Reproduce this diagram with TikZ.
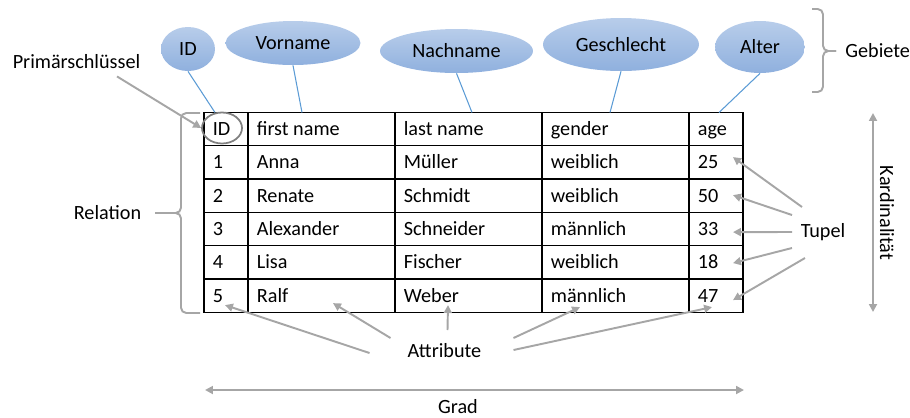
\documentclass[tikz,border=0pt]{standalone}
\usepackage{fontspec}
\setmainfont{Carlito}
\usetikzlibrary{shapes.geometric, arrows.meta, calc}

\definecolor{hellgrau}{RGB}{166,166,166}
\definecolor{dunkelgrau}{RGB}{128,128,128}
\definecolor{linienblau}{RGB}{91,155,213}
\definecolor{blauoben}{RGB}{184,205,234}
\definecolor{blauunten}{RGB}{143,176,222}

\begin{document}
\begin{tikzpicture}[
    x=0.02cm, y=-0.02cm,
    every node/.style={font=\fontsize{11.5}{13}\selectfont},
    gebiet/.style={ellipse, top color=blauoben, bottom color=blauunten, draw=none, inner sep=0pt, minimum height=0.88cm},
    zelle/.style={anchor=west, inner sep=0pt, text height=7.3pt, text depth=0pt},
    beschriftung/.style={inner sep=0pt},
    pfeil/.style={-{Triangle[length=4.5pt,width=4.5pt]}, hellgrau, line width=1.1pt},
    doppelpfeil/.style={{Triangle[length=4.5pt,width=4.5pt]}-{Triangle[length=4.5pt,width=4.5pt]}, hellgrau, line width=1.1pt},
    klammer/.style={hellgrau, line width=1.1pt, rounded corners=3pt},
    verbindung/.style={linienblau, line width=0.6pt},
    gitter/.style={line width=0.7pt}
  ]
  \useasboundingbox (0,0) rectangle (910,417);

  % Tabelle
  \draw[gitter] (204,112.5) rectangle (743,312.3);
  \foreach \y in {145.8,179.1,212.4,245.7,279.0}
    \draw[gitter] (204,\y) -- (743,\y);
  \foreach \x in {248,395,542,689}
    \draw[gitter] (\x,112.5) -- (\x,312.3);

  % Zellen
  \foreach \r/\a/\b/\c/\d/\e in {0/ID/first name/last name/gender/age,
      1/1/Anna/Müller/weiblich/25, 2/2/Renate/Schmidt/weiblich/50,
      3/3/Alexander/Schneider/männlich/33, 4/4/Lisa/Fischer/weiblich/18,
      5/5/Ralf/Weber/männlich/47} {
    \pgfmathsetmacro{\ym}{129.2+33.3*\r}
    \node[zelle] (id-\r) at (212.5,\ym) {\a};
    \node[zelle] (fn-\r) at (256.5,\ym) {\b};
    \node[zelle] (ln-\r) at (403.5,\ym) {\c};
    \node[zelle] (gd-\r) at (550.5,\ym) {\d};
    \node[zelle] (ag-\r) at (697.5,\ym) {\e};
  }

  % Gebiete (Ellipsen)
  \node[gebiet, minimum width=1.08cm] (e-id) at (188,49) {ID};
  \node[gebiet, minimum width=2.7cm] (e-vor) at (293,43) {Vorname};
  \node[gebiet, minimum width=3.06cm] (e-nach) at (456.5,51) {Nachname};
  \node[gebiet, minimum width=3.12cm, minimum height=1.06cm] (e-geschl) at (621,44.5) {Geschlecht};
  \node[gebiet, minimum width=1.8cm, minimum height=1.04cm] (e-alter) at (760,47) {Alter};

  \coordinate (k-id) at (215,112.5);
  \coordinate (k-vor) at (302,112.5);
  \coordinate (k-nach) at (472,112.5);
  \coordinate (k-geschl) at (610,112.5);
  \coordinate (k-alter) at (719,112.5);
  \foreach \n in {id,vor,nach,geschl,alter}
    \draw[verbindung] (e-\n.south) -- (k-\n);

  % Klammer Gebiete
  \draw[klammer] (812,9) -| (823,51) -- (836,51);
  \draw[klammer] (812,92) -| (823,51) -- (836,51);
  \node[beschriftung, anchor=west] (gebiete) at (845,51) {Gebiete};

  % Primaerschluessel
  \node[draw=dunkelgrau, ellipse, line width=1pt, minimum width=0.8cm, minimum height=0.62cm, inner sep=0pt] (pk) at (222,128) {};
  \node[beschriftung] (prim) at (76.5,62) {Primärschlüssel};
  \draw[pfeil] ($(prim.south)+(40.5,7)$) -- (pk.west);

  % Relation
  \draw[klammer] (200,113) -| (181,213) -- (155,213);
  \draw[klammer] (200,313) -| (181,213) -- (155,213);
  \node[beschriftung] (rel) at (107.5,213) {Relation};

  % Tupel
  \node[beschriftung] (tupel) at (823,232) {Tupel};
  \foreach \r/\dx/\dy/\ty in {1/-21/-25/-5.4, 2/-31/-17/-0.7, 3/-31/0/3, 4/-31/16/0.7, 5/-18/26/4.4}
    \draw[pfeil] ($(tupel)+(\dx,\dy)$) -- ($(ag-\r.west)+(35.5,\ty)$);

  % Kardinalitaet
  \coordinate (kard-o) at (873,113);
  \coordinate (kard-u) at (873,312);
  \draw[doppelpfeil] (kard-o) -- (kard-u);
  \node[beschriftung, rotate=-90] (kard) at (887,213) {Kardinalität};

  % Attribute
  \node[beschriftung] (attr) at (444.5,351) {Attribute};
  \draw[pfeil] ($(attr)+(-75,2)$) -- ($(id-5.west)+(12.5,9.4)$);
  \draw[pfeil] ($(attr)+(-54,-13)$) -- ($(fn-5.west)+(76.5,7.4)$);
  \draw[pfeil] ($(attr)+(3,-21)$) -- ($(ln-5.west)+(44.5,9.4)$);
  \draw[pfeil] ($(attr)+(69,-13)$) -- ($(gd-5.west)+(29.5,11.4)$);
  \draw[pfeil] ($(attr)+(69,-1)$) -- ($(ag-5.west)+(14.5,11.4)$);

  % Grad
  \coordinate (grad-l) at (205,390);
  \coordinate (grad-r) at (744,390);
  \draw[doppelpfeil] (grad-l) -- (grad-r);
  \node[beschriftung] (grad) at (458,407) {Grad};
\end{tikzpicture}
\end{document}
